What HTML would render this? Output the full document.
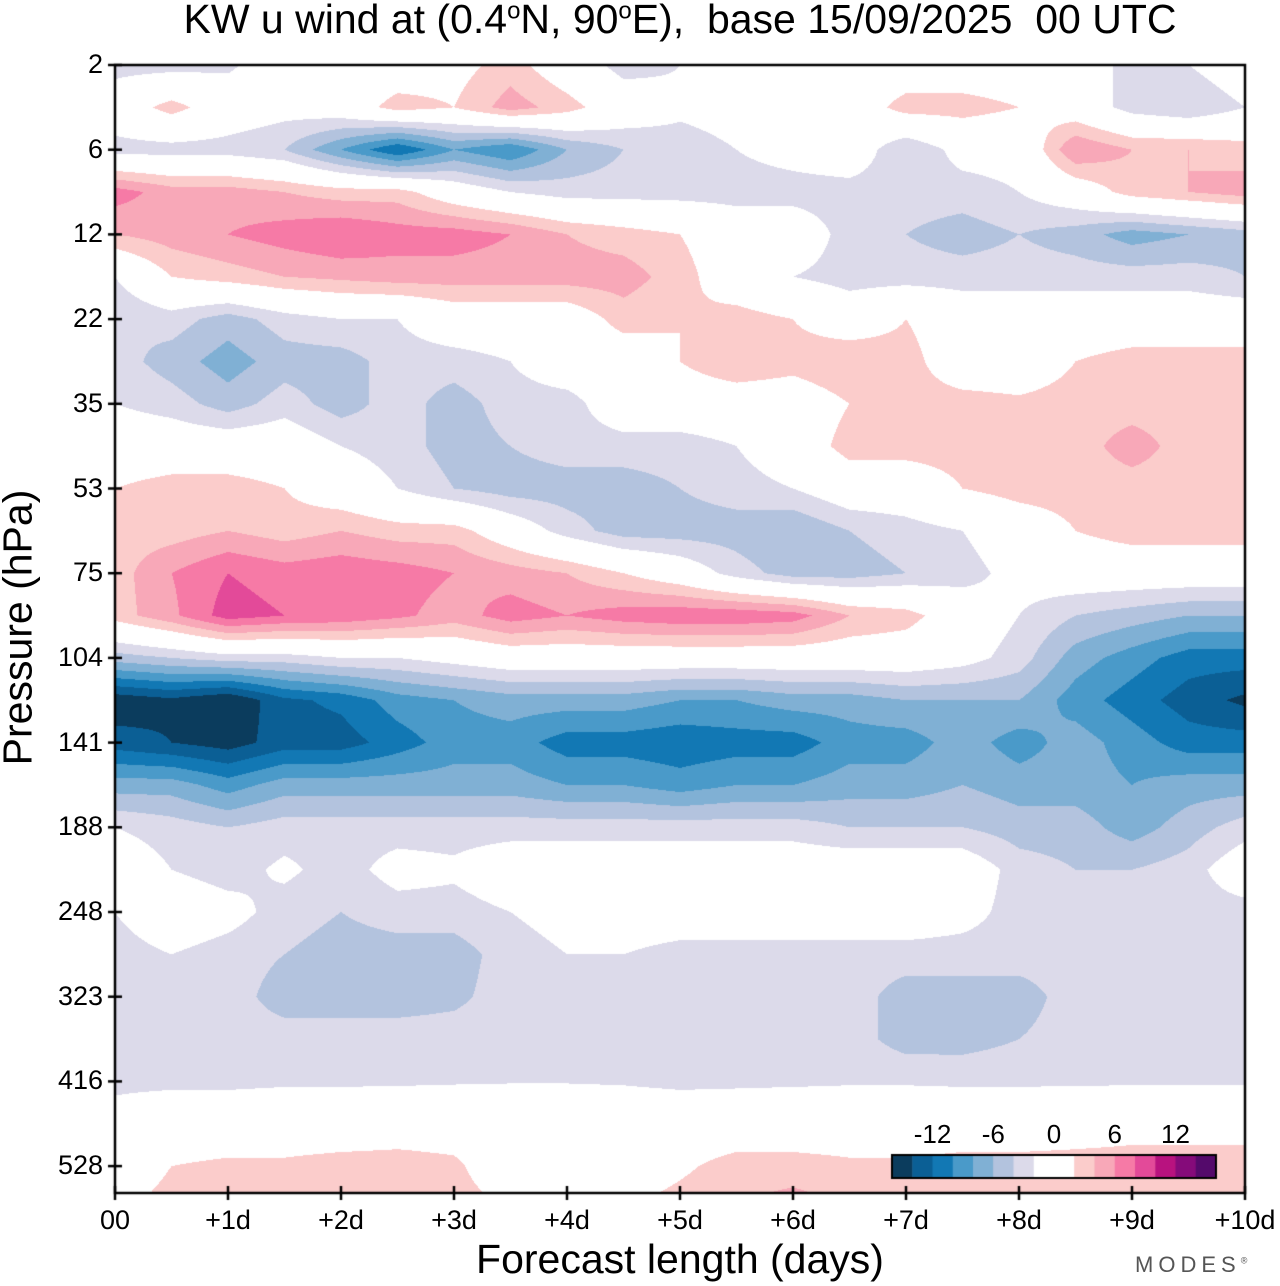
<!DOCTYPE html>
<html><head><meta charset="utf-8"><style>
body{margin:0;background:#fff;font-family:"Liberation Sans",sans-serif}
#wrap{position:relative;width:1280px;height:1286px;overflow:hidden}
canvas{position:absolute;left:0;top:0}
.t{position:absolute;white-space:nowrap;color:#000}
</style></head><body>
<div id="wrap">
<canvas id="cv" width="1280" height="1286"></canvas>
<div class="t" style="left:0;width:1360px;text-align:center;top:-4px;font-size:41px;">KW u wind at (0.4<sup style="font-size:24px">o</sup>N, 90<sup style="font-size:24px">o</sup>E),&nbsp; base 15/09/2025&nbsp; 00 UTC</div>
<div class="t" style="left:-132px;top:604px;width:300px;text-align:center;font-size:41px;transform:rotate(-90deg);">Pressure (hPa)</div>
<div class="t" style="left:330px;width:700px;text-align:center;top:1236px;font-size:41px;">Forecast length (days)</div>
<div class="t" style="left:1135px;top:1252px;font-size:22px;color:#555;letter-spacing:5px;">MODES<sup style="font-size:9px">®</sup></div>
<div id="labels"></div>
</div>
<script>
const days=[0,0.5,1,1.5,2,2.5,3,3.5,4,4.5,5,5.5,6,6.5,7,7.5,8,8.5,9,9.5,10];
const yTicks=["2","6","12","22","35","53","75","104","141","188","248","323","416","528"];
const xTicks=["00","+1d","+2d","+3d","+4d","+5d","+6d","+7d","+8d","+9d","+10d"];
const cbarLabels=[-12,-6,0,6,12];
const levels=[-16,-14,-12,-10,-8,-6,-4,-2,0,2,4,6,8,10,12,14,16];
const colors=["#0b3c5d","#0b5f95","#1278b4","#4a9ac9","#80b0d4","#b3c3de","#dcdaea","#ffffff","#ffffff","#fbcccb","#f8a8b8","#f67aa6","#e34a99","#b8127f","#850b7a","#540a6b"];
// rows: half-tick pressure levels from 2 hPa downward (row k at tick index k/2)
const u=[
[-3,-3,-2.5,0,0,0,1,3,0,-3,-2,0,0,0,0,0,0,0,-3,-2,0],
[0,3,0,-1,0,3,2,5,3,0,-1.5,-1,0,0,3,3,2,0,-3,-4,-2],
[-3,-3,-3,-4,-8,-12,-8,-10,-6,-4,-3,-2,-1,0,-4,-1,-1,6,4,4,3],
[7,5,5,4,3,3,0,-2,-3,-3,-3,-3,-3,-3,-3,-3,-2,0,3,4,5],
[4,5,6,7,8,7,7,6,4,3,2,0,0,-3,-4,-5,-4,-5,-7,-6,-5],
[-2,2,3,4,4.5,5,5,5,5,5,3,0,-2,-3,-3,-3,-3,-3,-3,-3,-4],
[-4,-3,-5,-3,-2,-2,0,0,0,3,2,3,2,0,2,0,0,0,0,0,0],
[-3,-5,-7,-5,-5,-3,-3,-2,0,0,2,4,3,4,3,0,0,2,3,3,3],
[-2,-3,-5,-3,-5,-3,-5,-3,-3,0,0,0,0,2,3,3,2.5,3,3,3,3],
[0,0,0,0,-2,-3,-5,-4,-3,-3,-3,-2,0,3,3,3,3,3,5,3,3],
[2,3,3,2,0,-2,-4,-5,-5,-5,-4,-3,-2,0,0,2,3,3,3,3,2],
[3,3,4,3,4,3,3,0,-3,-5,-5,-5,-6,-4,-3,-2,0,2,3,3,3],
[3,6,8,7,7.5,7,6,5,4,2,0,-3,-5,-5,-4,-3,-1,0,0,0,0],
[3,5.5,9,8,7.5,6.5,5,7,6,7,7.5,7.5,7,4,3,0,-2,-4,-5,-6,-6],
[-5,-4,-3,-3,-2,-2,-1,0,0,0,0,0,0,0,0,-1,-3,-7,-9,-11,-11],
[-15.5,-14.5,-16,-12.5,-11.5,-9,-8,-7,-7,-7,-8,-8,-7,-7,-6,-6,-6,-9,-11,-13,-14.5],
[-13,-14,-15,-13,-13,-11,-9,-9,-11,-11,-11.5,-11,-11,-9,-9,-7,-9,-7,-9,-11,-11],
[-7,-7,-9,-7,-7,-7,-7,-7,-8,-8,-9,-8,-8,-7,-7,-6,-7,-7,-8,-7,-7],
[-2,-3,-4,-3,-3,-3,-3,-3,-3,-3,-3,-3,-3,-4,-4,-4,-5,-5,-7,-5,-3],
[0,-2,-3,-1.5,-3,-1,-1.5,0,0,0,0,0,0,0,0,0,-3,-4,-4,-3,0],
[-2,0,-1,-3,-4,-3,-3,-2,-1,0,0,0,0,0,0,-1,-3,-3,-3,-3,-3],
[-3,-2,-3,-4,-5,-5,-5,-3,-2,-2,-3,-3,-3,-3,-3,-3,-3,-3,-3,-3,-3],
[-3,-3,-3,-5,-5,-5,-4.5,-3,-3,-3,-3,-3,-4,-3,-5,-5,-5,-3,-3,-3,-3],
[-3,-3,-3,-3,-3,-3,-3,-3,-3,-3,-3,-3,-3,-3,-5,-5,-4,-3,-3,-3,-3],
[-2.5,-2.5,-2.5,-2.3,-2.3,-2.3,-2.2,-2.1,-2.1,-2.2,-2.5,-2.4,-2.3,-2.2,-2.2,-2.3,-2.3,-2.3,-2.3,-2.3,-2.3],
[-1,0,0,0,0,0.5,0.5,0,0,0,0,0,0,0,0,0,0,0.5,1,1,1],
[0,2,2.5,2.5,3,3,2.5,0,0,0,1.5,3,3,2.5,2.5,3,3,3,3,3,3],
[1.5,3,3,3,3,3,3,2,0,2,3,4,5,4,3,3,3,3,3,3,3]
];
const L=115,R=1245,T=65,B=1193,TS=84.7;
const xs=d=>L+d*(R-L)/10;
const ys=k=>T+k*TS/2;
function hex(c){return [parseInt(c.substr(1,2),16),parseInt(c.substr(3,2),16),parseInt(c.substr(5,2),16)];}
const cv=document.getElementById('cv');const ctx=cv.getContext('2d');
const img=ctx.createImageData(R-L,B-T);
const rgb=colors.map(hex);
const nc=days.length,nr=u.length;
for(let py=0;py<B-T;py++){
  const fk=(py+0.5)/(TS/2);let k=Math.min(Math.floor(fk),nr-2);const ty=fk-k;
  for(let px=0;px<R-L;px++){
    const fd=(px+0.5)/((R-L)/10)/0.5;let j=Math.min(Math.floor(fd),nc-2);const tx=fd-j;
    const v=(u[k][j]*(1-tx)+u[k][j+1]*tx)*(1-ty)+(u[k+1][j]*(1-tx)+u[k+1][j+1]*tx)*ty;
    let i=Math.floor((v+16)/2);i=Math.max(0,Math.min(15,i));
    const c=rgb[i];const o=(py*(R-L)+px)*4;
    img.data[o]=c[0];img.data[o+1]=c[1];img.data[o+2]=c[2];img.data[o+3]=255;
  }
}
ctx.putImageData(img,L,T);
ctx.strokeStyle='#000';ctx.lineWidth=2.5;ctx.strokeRect(L,T,R-L,B-T);
const lab=document.getElementById('labels');
yTicks.forEach((t,i)=>{
  const y=T+i*TS;
  ctx.beginPath();ctx.moveTo(L-7,y);ctx.lineTo(L+7,y);ctx.stroke();
  const d=document.createElement('div');d.className='t';
  
  
  d.style.cssText='left:0;width:103px;text-align:right;font-size:27px;top:'+(y-16)+'px';
  d.textContent=t;lab.appendChild(d);
});
xTicks.forEach((t,i)=>{
  const x=xs(i);
  ctx.beginPath();ctx.moveTo(x,B-7);ctx.lineTo(x,B+7);ctx.stroke();
  const d=document.createElement('div');d.className='t';
  
  
  d.style.cssText='left:'+(x-60)+'px;width:120px;text-align:center;font-size:27px;top:'+(B+12)+'px';
  d.textContent=t;lab.appendChild(d);
});
const cbL=892,cbW=324,cbT=1155,cbH=23,bw=cbW/colors.length;
colors.forEach((c,i)=>{ctx.fillStyle=c;ctx.fillRect(cbL+i*bw,cbT,bw+0.5,cbH);});
ctx.lineWidth=2;ctx.strokeRect(cbL,cbT,cbW,cbH);
cbarLabels.forEach(v=>{
  const x=cbL+(v-levels[0])/(levels[levels.length-1]-levels[0])*cbW;
  const d=document.createElement('div');d.className='t';
  
  
  d.style.cssText='left:'+(x-40)+'px;width:80px;text-align:center;font-size:26px;top:1119px';
  d.textContent=v;lab.appendChild(d);
});
</script>
</body></html>
